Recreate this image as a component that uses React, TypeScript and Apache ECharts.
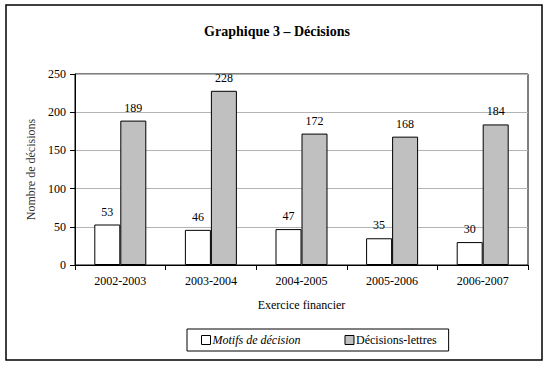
import React, { useEffect, useRef } from "react";
import * as echarts from "echarts";

const categories = ["2002-2003", "2003-2004", "2004-2005", "2005-2006", "2006-2007"];
const motifs = [53, 46, 47, 35, 30];
const lettres = [189, 228, 172, 168, 184];
const yTicks = { min: 0, max: 250, interval: 50 };

const FONT = "Liberation Serif";

export default function App() {
  const ref = useRef<HTMLDivElement>(null);
  useEffect(() => {
    if (!ref.current) return;
    const chart = echarts.init(ref.current, undefined, { renderer: "svg" });
    chart.setOption({
      animation: false,
      backgroundColor: "#ffffff",
      textStyle: { fontFamily: FONT, color: "#000" },
      title: {
        text: "Graphique 3 – Décisions",
        left: 272,
        top: 19,
        textAlign: "center",
        textStyle: { fontFamily: FONT, fontSize: 14, fontWeight: "bold", color: "#000" },
      },
      graphic: [
        {
          type: "rect",
          shape: { x: 6, y: 5, width: 536, height: 355 },
          style: { fill: "none", stroke: "#000", lineWidth: 1.5 },
          z: -1,
        },
      ],
      legend: {
        left: 187,
        top: 329,
        width: 265,
        height: 23,
        padding: [5, 12, 5, 14],
        borderColor: "#000",
        borderWidth: 1,
        itemWidth: 9,
        itemHeight: 9,
        itemGap: 44,
        icon: "rect",
        itemStyle: { borderWidth: 1, borderColor: "#000" },
        textStyle: { fontFamily: FONT, fontSize: 12, color: "#000", padding: [0, 0, 0, -3] },
        data: [
          { name: "Motifs de décision", textStyle: { fontStyle: "italic", fontFamily: FONT } },
          { name: "Décisions-lettres" },
        ],
      },
      grid: {
        left: 75,
        right: 20,
        top: 74,
        bottom: 109,
        show: true,
        borderColor: "#000",
        borderWidth: 1,
        backgroundColor: "transparent",
      },
      xAxis: {
        type: "category",
        data: categories,
        name: "Exercice financier",
        nameLocation: "middle",
        nameGap: 34,
        nameTextStyle: { fontFamily: FONT, fontSize: 12, color: "#000" },
        axisLine: { lineStyle: { color: "#000", width: 1 } },
        axisTick: { show: true, length: 5, lineStyle: { color: "#000" } },
        axisLabel: { fontFamily: FONT, fontSize: 12, color: "#000", margin: 10 },
      },
      yAxis: {
        type: "value",
        min: yTicks.min,
        max: yTicks.max,
        interval: yTicks.interval,
        name: "Nombre de décisions",
        nameLocation: "middle",
        nameGap: 32,
        nameTextStyle: { fontFamily: FONT, fontSize: 12, color: "#333" },
        axisLine: { show: true, lineStyle: { color: "#000", width: 1 } },
        axisTick: { show: true, length: 5, lineStyle: { color: "#000" } },
        axisLabel: { fontFamily: FONT, fontSize: 12, color: "#000", margin: 9 },
        splitLine: { show: true, lineStyle: { color: "#b4b4b4", width: 1 } },
      },
      series: [
        {
          name: "Motifs de décision",
          type: "bar",
          data: motifs,
          barWidth: 26,
          barGap: "0%",
          itemStyle: { color: "#ffffff", borderColor: "#000", borderWidth: 1 },
          label: {
            show: true,
            position: "top",
            distance: 7,
            fontFamily: FONT,
            fontSize: 12,
            color: "#000",
          },
        },
        {
          name: "Décisions-lettres",
          type: "bar",
          data: lettres,
          barWidth: 26,
          barGap: "0%",
          itemStyle: { color: "#c0c0c0", borderColor: "#000", borderWidth: 1 },
          label: {
            show: true,
            position: "top",
            distance: 7,
            fontFamily: FONT,
            fontSize: 12,
            color: "#000",
          },
        },
      ],
    });
    return () => chart.dispose();
  }, []);
  return (
    <div
      ref={ref}
      style={{ position: "fixed", left: 0, top: 0, width: 548, height: 374 }}
    />
  );
}
